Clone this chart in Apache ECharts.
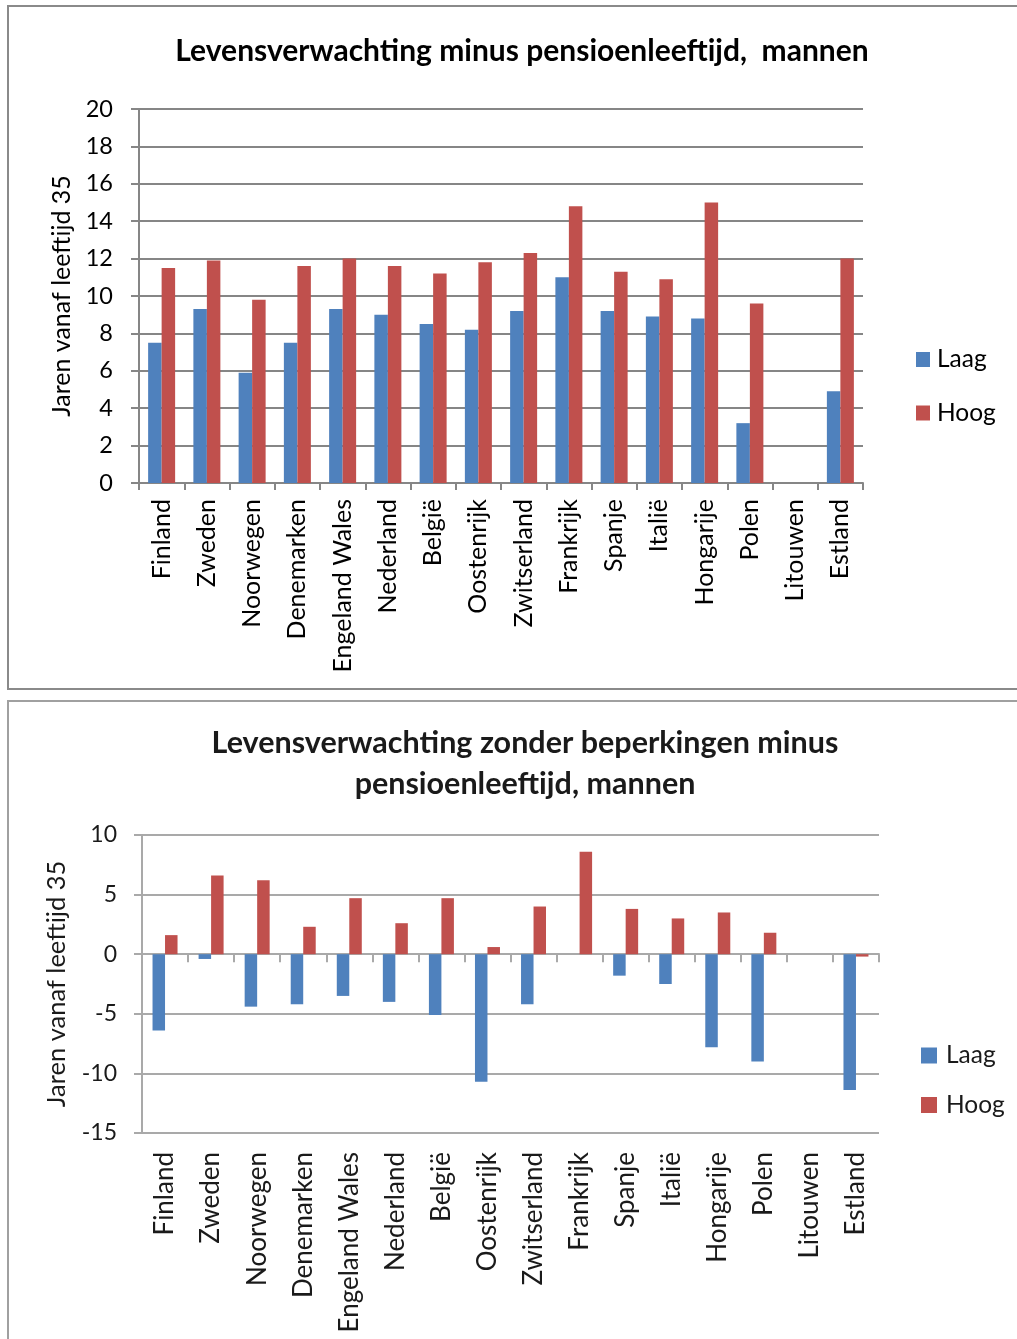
<!DOCTYPE html>
<html>
<head>
<meta charset="utf-8">
<script src="https://cdn.jsdelivr.net/npm/echarts@6/dist/echarts.min.js"></script>
<style>
html,body{margin:0;padding:0;background:#fff;}
#c{width:1017px;height:1339px;}
</style>
</head>
<body>
<div id="c"></div>
<script>
var categories = ['Finland','Zweden','Noorwegen','Denemarken','Engeland Wales','Nederland','België','Oostenrijk','Zwitserland','Frankrijk','Spanje','Italië','Hongarije','Polen','Litouwen','Estland'];
var laag1 = [7.5, 9.3, 5.9, 7.5, 9.3, 9.0, 8.5, 8.2, 9.2, 11.0, 9.2, 8.9, 8.8, 3.2, null, 4.9];
var hoog1 = [11.5, 11.9, 9.8, 11.6, 12.0, 11.6, 11.2, 11.8, 12.3, 14.8, 11.3, 10.9, 15.0, 9.6, null, 12.0];
var laag2 = [-6.4, -0.4, -4.4, -4.2, -3.5, -4.0, -5.1, -10.7, -4.2, 0, -1.8, -2.5, -7.8, -9.0, null, -11.4];
var hoog2 = [1.6, 6.6, 6.2, 2.3, 4.7, 2.6, 4.7, 0.6, 4.0, 8.6, 3.8, 3.0, 3.5, 1.8, null, -0.2];
var title1 = 'Levensverwachting minus pensioenleeftijd,  mannen';
var title2 = 'Levensverwachting zonder beperkingen minus\npensioenleeftijd, mannen';
var yName = 'Jaren vanaf leeftijd 35';

var FONT = 'Lato, "Open Sans", sans-serif';
var BLUE = '#4F81BD', RED = '#C0504D';
var grid1Line = '#868686', grid2Line = '#a9a9a9';

var chart = echarts.init(document.getElementById('c'), null, {renderer:'canvas'});
chart.setOption({
  animation: false,
  backgroundColor: '#fff',
  textStyle: {fontFamily: FONT, color: '#000'},
  graphic: [
    {type:'rect', shape:{x:8, y:6, width:1030, height:683}, style:{fill:'none', stroke:'#8a8a8a', lineWidth:2}, z:-1},
    {type:'rect', shape:{x:8, y:701, width:1030, height:660}, style:{fill:'none', stroke:'#a0a0a0', lineWidth:2}, z:-1}
  ],
  title: [
    {text: title1, left: 517, top: 31, textAlign: 'center',
     textStyle:{fontFamily: FONT, fontSize: 30, fontWeight: 'bold', color:'#000'}},
    {text: title2, left: 520, top: 718, textAlign: 'center',
     textStyle:{fontFamily: FONT, fontSize: 30.5, fontWeight: 'bold', color:'#1a1a1a', lineHeight: 41}}
  ],
  legend: [
    {data:['Laag','Hoog'], orient:'vertical', left: 911, top: 342, itemWidth: 14, itemHeight: 15, itemGap: 28.5,
     icon:'rect', textStyle:{fontFamily: FONT, fontSize: 24.5, color:'#000', padding:[0,0,0,2]}, selectedMode:false},
    {data:['Laag','Hoog'], orient:'vertical', left: 916, top: 1038, itemWidth: 16, itemHeight: 16, itemGap: 24.5,
     icon:'rect', textStyle:{fontFamily: FONT, fontSize: 24.5, color:'#1a1a1a', padding:[0,0,0,4]}, selectedMode:false}
  ],
  grid: [
    {left: 139, top: 109, width: 724, height: 374},
    {left: 142, top: 835, width: 737, height: 298}
  ],
  xAxis: [
    {type:'category', gridIndex:0, data: categories,
     axisLine:{show:true, lineStyle:{color: grid1Line, width:2}},
     axisTick:{show:true, interval:0, length:7, lineStyle:{color: grid1Line, width:2}},
     axisLabel:{interval:0, rotate:90, margin:16, fontSize:25, color:'#000', fontFamily: FONT}},
    {type:'category', gridIndex:1, data: categories, position:'bottom',
     axisLine:{show:false, onZero:false}, axisTick:{show:false},
     axisLabel:{interval:0, rotate:90, margin:19, fontSize:26, color:'#1a1a1a', fontFamily: FONT}},
    {type:'category', gridIndex:1, data: categories, position:'bottom',
     axisLine:{show:true, onZero:true, lineStyle:{color: grid2Line, width:2}},
     axisTick:{show:true, interval:0, length:8, lineStyle:{color: grid2Line, width:2}},
     axisLabel:{show:false}}
  ],
  yAxis: [
    {type:'value', gridIndex:0, min:0, max:20, interval:2,
     name: yName, nameLocation:'middle', nameRotate:90, nameGap:62,
     nameTextStyle:{fontFamily: FONT, fontSize:25, color:'#000'},
     axisLine:{show:true, lineStyle:{color: grid1Line, width:2}},
     axisTick:{show:true, length:8, lineStyle:{color: grid1Line, width:2}},
     splitLine:{show:true, lineStyle:{color: grid1Line, width:2}},
     axisLabel:{fontSize:23.5, margin:26, color:'#000', fontFamily: FONT}},
    {type:'value', gridIndex:1, min:-15, max:10, interval:5,
     name: yName, nameLocation:'middle', nameRotate:90, nameGap:72,
     nameTextStyle:{fontFamily: FONT, fontSize:25.5, color:'#1a1a1a'},
     axisLine:{show:true, lineStyle:{color: grid2Line, width:2}},
     axisTick:{show:true, length:8, lineStyle:{color: grid2Line, width:2}},
     splitLine:{show:true, lineStyle:{color: grid2Line, width:2}},
     axisLabel:{fontSize:23, margin:25, color:'#1a1a1a', fontFamily: FONT}}
  ],
  series: [
    {name:'Laag', type:'bar', xAxisIndex:0, yAxisIndex:0, data: laag1, barWidth:13.5, barGap:'0%',
     itemStyle:{color: BLUE}},
    {name:'Hoog', type:'bar', xAxisIndex:0, yAxisIndex:0, data: hoog1, barWidth:13.5, barGap:'0%',
     itemStyle:{color: RED}},
    {name:'Laag', type:'bar', xAxisIndex:1, yAxisIndex:1, data: laag2, barWidth:12.5, barGap:'0%',
     itemStyle:{color: BLUE}},
    {name:'Hoog', type:'bar', xAxisIndex:1, yAxisIndex:1, data: hoog2, barWidth:12.5, barGap:'0%',
     itemStyle:{color: RED}}
  ]
});
</script>
</body>
</html>
